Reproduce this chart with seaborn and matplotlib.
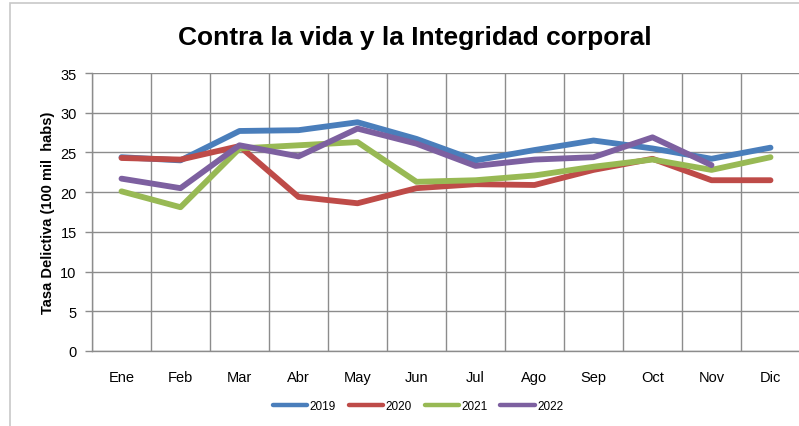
import matplotlib
matplotlib.use("Agg")
import matplotlib.pyplot as plt
import seaborn as sns
import pandas as pd
from matplotlib.patches import Rectangle

months = ["Ene", "Feb", "Mar", "Abr", "May", "Jun", "Jul", "Ago", "Sep", "Oct", "Nov", "Dic"]
v2019 = [24.4, 24.0, 27.7, 27.8, 28.8, 26.7, 24.0, 25.3, 26.5, 25.5, 24.2, 25.6]
v2020 = [24.3, 24.1, 25.8, 19.4, 18.6, 20.5, 21.0, 20.9, 22.8, 24.2, 21.5, 21.5]
v2021 = [20.1, 18.1, 25.5, 25.9, 26.3, 21.3, 21.5, 22.1, 23.2, 24.1, 22.8, 24.4]
v2022 = [21.7, 20.5, 25.9, 24.5, 28.0, 26.1, 23.3, 24.1, 24.4, 26.9, 23.4, None]
years = ["2019", "2020", "2021", "2022"]
colors = ["#4A7EBB", "#BE4B48", "#98B954", "#7D60A0"]

rows = []
for yr, vals in zip(years, [v2019, v2020, v2021, v2022]):
    for i, (m, v) in enumerate(zip(months, vals)):
        if v is not None:
            rows.append({"idx": i, "Mes": m, "Año": yr, "valor": v})
df = pd.DataFrame(rows)

sns.set_theme(style="white")
plt.rcParams['font.family'] = ['Liberation Sans', 'DejaVu Sans']
plt.rcParams['text.color'] = 'black'
plt.rcParams['xtick.color'] = 'black'
plt.rcParams['ytick.color'] = 'black'
plt.rcParams['axes.labelcolor'] = 'black'

fig = plt.figure(figsize=(7.99, 4.27), dpi=100)
ax = fig.add_axes([92 / 799, (427 - 352) / 427, 708 / 799, (352 - 74) / 427])

sns.lineplot(data=df, x="idx", y="valor", hue="Año", palette=colors,
             linewidth=4.2, ax=ax, legend=True, solid_capstyle="round")

ax.set_xlim(-0.5, 11.5)
ax.set_ylim(0, 35)
ax.set_yticks(range(0, 36, 5))
ax.set_xticks(range(12))
ax.set_xticklabels(months)
ax.set_xticks([i + 0.5 for i in range(-1, 12)], minor=True)
ax.grid(False)
ax.grid(True, which="minor", axis="x", color="#8c8c8c", linewidth=1.0)
ax.grid(True, which="major", axis="y", color="#8c8c8c", linewidth=1.0)
ax.set_axisbelow(True)
ax.tick_params(axis="x", which="both", length=0, pad=14, labelsize=10.5, labelcolor="black")
ax.tick_params(axis="y", which="major", length=5, width=1, color="#8c8c8c", pad=6,
               labelsize=10.5, labelcolor="black", direction="out", left=True)
ax.set_xlabel("")
ax.set_ylabel("Tasa Delictiva (100 mil  habs)", fontsize=10.5, fontweight="bold",
              labelpad=4, color="black")
for side in ["top", "right"]:
    ax.spines[side].set_visible(False)
for side in ["left", "bottom"]:
    ax.spines[side].set_color("#8c8c8c")
    ax.spines[side].set_linewidth(1.0)

fig.suptitle("Contra la vida y la Integridad corporal", x=415 / 799, y=1 - 38 / 427,
             va="center", fontsize=19, fontweight="bold", color="black")

handles, labels = ax.get_legend_handles_labels()
leg = ax.legend(handles, labels, loc="center", bbox_to_anchor=(418 / 799, 1 - 407 / 427),
                bbox_transform=fig.transFigure, ncol=4, frameon=False,
                handlelength=2.9, columnspacing=1.1, handletextpad=0.2,
                prop={"size": 8.5})
for line in leg.get_lines():
    line.set_linewidth(3.2)
for t in leg.get_texts():
    t.set_color("black")

fig.add_artist(Rectangle((10 / 799, -0.1), 1.2, 1 - 4 / 427 + 0.1, transform=fig.transFigure,
                         fill=False, edgecolor="#c8c8c8", linewidth=1.2))

fig.savefig("out.png", dpi=100)
